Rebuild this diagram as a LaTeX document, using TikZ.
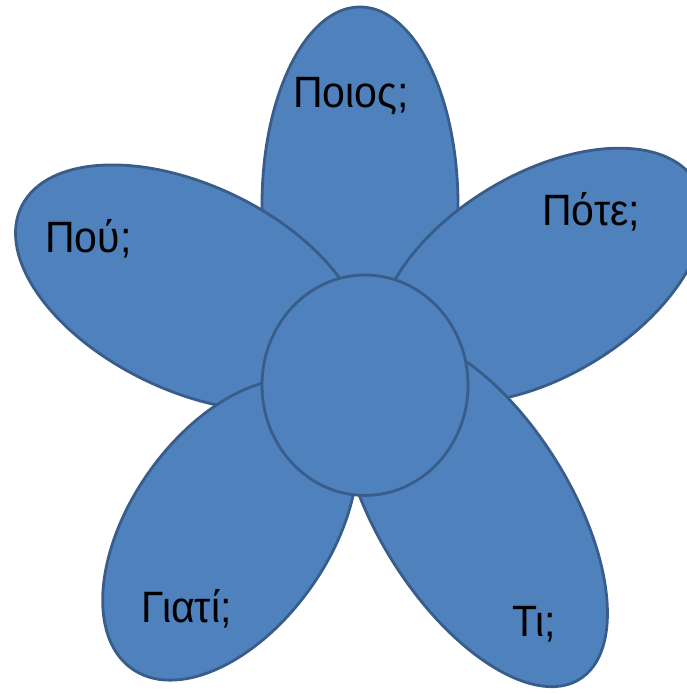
\documentclass[tikz,border=0pt]{standalone}
\usepackage{fontspec}
\setmainfont{Liberation Sans}
\definecolor{petalfill}{HTML}{4F81BD}
\definecolor{petalline}{HTML}{385D8A}
\begin{document}
\begin{tikzpicture}[x=1pt,y=1pt,
  petal/.style={fill=petalfill, draw=petalline, line width=2.8pt},
  lbl/.style={anchor=base west, inner sep=0pt, font=\fontsize{41}{41}\selectfont, text=black}]
\useasboundingbox (0,0) rectangle (687,-694);
\clip (0,0) rectangle (687,-694);
\begin{scope}[yscale=1.07, transform shape]
  % top petal
  \path[petal] (360,-191.5) ellipse [x radius=98, y radius=185];
  % left petal
  \path[petal, rotate around={-23:(190,-269)}] (190,-269) ellipse [x radius=185, y radius=97];
  % right petal
  \path[petal, rotate around={28:(541,-257.5)}] (541,-257.5) ellipse [x radius=178, y radius=96];
  % bottom-left petal
  \path[petal, rotate around={51:(230,-495)}] (230,-495) ellipse [x radius=163, y radius=97];
  % bottom-right petal
  \path[petal, rotate around={-55:(474,-477)}] (474,-477) ellipse [x radius=190, y radius=94];
  % centre
  \path[petal] (365,-360) circle [radius=103];
  % labels
  \node[lbl] (poios) at (293,-100) {Ποιος;};
  \node[lbl] (pote)  at (542,-210.3) {Πότε;};
  \node[lbl] (pou)   at (45,-236.4) {Πού;};
  \node[lbl] (giati) at (141,-581.3) {Γιατί;};
  \node[lbl] (ti)    at (512,-595.3) {Τι;};
\end{scope}
\end{tikzpicture}
\end{document}
